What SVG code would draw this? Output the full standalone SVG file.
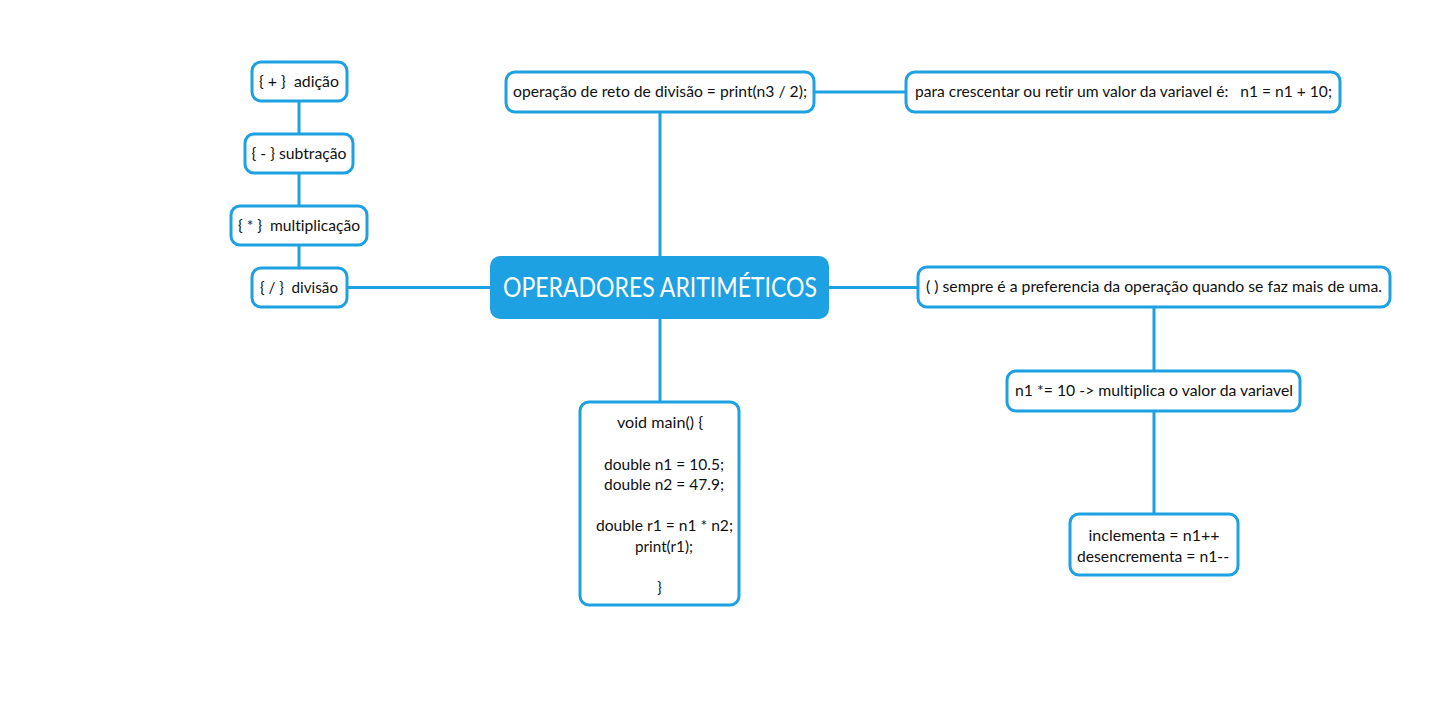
<svg xmlns="http://www.w3.org/2000/svg" width="1433" height="708" viewBox="0 0 1433 708">
<style>
.n{fill:#fff;stroke:#1da1e2;stroke-width:3}
.c{fill:none;stroke:#1da1e2;stroke-width:3}
.t{font-family:Lato,"Open Sans","Liberation Sans",sans-serif;font-size:15px;fill:#111;text-anchor:middle;white-space:pre;font-variant-ligatures:none}
.h{font-family:Lato,"Open Sans","Liberation Sans",sans-serif;font-size:26px;fill:#fff;text-anchor:middle}
</style>
<rect width="1433" height="708" fill="#fff"/>
<g id="connectors">
<path class="c" d="M299 101V268"/>
<path class="c" d="M347 287.5H490"/>
<path class="c" d="M660 112V256"/>
<path class="c" d="M814 92H906"/>
<path class="c" d="M829 287.5H918"/>
<path class="c" d="M660 319V402"/>
<path class="c" d="M1154 307V371"/>
<path class="c" d="M1154 411V514"/>
</g>
<g id="center">
<rect x="490" y="256" width="339" height="63" rx="10" fill="#1da1e2"/>
<text class="h" x="660" y="297" textLength="314" lengthAdjust="spacingAndGlyphs">OPERADORES ARITIMÉTICOS</text>
</g>
<g id="adicao">
<rect class="n" x="252" y="62" width="95" height="39" rx="9"/>
<text class="t" x="299" y="87" textLength="80" lengthAdjust="spacingAndGlyphs" xml:space="preserve">{ + }  adição</text>
</g>
<g id="subtracao">
<rect class="n" x="245" y="134" width="108" height="39" rx="9"/>
<text class="t" x="299" y="159" textLength="95" lengthAdjust="spacingAndGlyphs">{ - } subtração</text>
</g>
<g id="multiplicacao">
<rect class="n" x="231" y="206" width="136" height="39" rx="9"/>
<text class="t" x="299" y="231" textLength="122" lengthAdjust="spacingAndGlyphs" xml:space="preserve">{ * }  multiplicação</text>
</g>
<g id="divisao">
<rect class="n" x="252" y="268" width="95" height="39" rx="9"/>
<text class="t" x="299" y="293" textLength="78" lengthAdjust="spacingAndGlyphs" xml:space="preserve">{ / }  divisão</text>
</g>
<g id="resto">
<rect class="n" x="506" y="72" width="308" height="40" rx="9"/>
<text class="t" x="660" y="97" textLength="294" lengthAdjust="spacingAndGlyphs">operação de reto de divisão = print(n3 / 2);</text>
</g>
<g id="crescentar">
<rect class="n" x="906" y="72" width="434" height="40" rx="9"/>
<text class="t" x="1123.5" y="97" textLength="417" lengthAdjust="spacingAndGlyphs" xml:space="preserve">para crescentar ou retir um valor da variavel é:   n1 = n1 + 10;</text>
</g>
<g id="preferencia">
<rect class="n" x="918" y="267" width="472" height="40" rx="9"/>
<text class="t" x="1154" y="292" textLength="456" lengthAdjust="spacingAndGlyphs">( ) sempre é a preferencia da operação quando se faz mais de uma.</text>
</g>
<g id="multiplica">
<rect class="n" x="1007" y="371" width="293" height="40" rx="9"/>
<text class="t" x="1154" y="396" textLength="278" lengthAdjust="spacingAndGlyphs">n1 *= 10 -&gt; multiplica o valor da variavel</text>
</g>
<g id="incremento">
<rect class="n" x="1070" y="514" width="168" height="61" rx="9"/>
<text class="t" x="1154" y="541" textLength="131" lengthAdjust="spacingAndGlyphs">inclementa = n1++</text>
<text class="t" x="1153" y="562" textLength="152" lengthAdjust="spacingAndGlyphs">desencrementa = n1--</text>
</g>
<g id="codigo">
<rect class="n" x="580" y="402" width="159" height="203" rx="9"/>
<text class="t" x="660" y="428" textLength="86" lengthAdjust="spacingAndGlyphs">void main() {</text>
<text class="t" x="664" y="470" textLength="120" lengthAdjust="spacingAndGlyphs">double n1 = 10.5;</text>
<text class="t" x="664" y="490" textLength="120" lengthAdjust="spacingAndGlyphs">double n2 = 47.9;</text>
<text class="t" x="664.5" y="531" textLength="137" lengthAdjust="spacingAndGlyphs">double r1 = n1 * n2;</text>
<text class="t" x="664" y="552" textLength="58" lengthAdjust="spacingAndGlyphs">print(r1);</text>
<text class="t" x="659.5" y="593">}</text>
</g>
</svg>
